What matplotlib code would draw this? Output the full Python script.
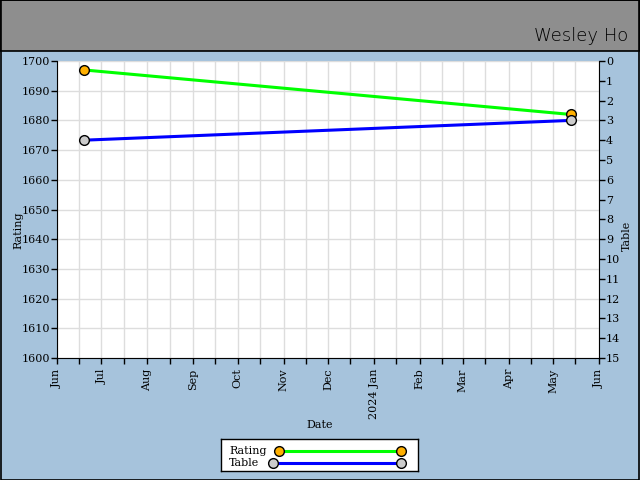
import datetime as dt
import matplotlib
matplotlib.use("Agg")
import matplotlib.pyplot as plt
import matplotlib.dates as mdates
from matplotlib.patches import Rectangle

# data
dates = [dt.date(2023, 6, 19), dt.date(2024, 5, 13)]
rating = [1697, 1682]
table = [4, 3]
player = "Wesley Ho"
series_names = ["Rating", "Table"]

x_start = dt.date(2023, 6, 1)
x_end = dt.date(2024, 6, 1)

bg_blue = "#a6c3dc"
head_gray = "#8e8e8e"
serif = "DejaVu Serif"
green, blue = "#00ff00", "#0000ff"
orange, grey = "#ffb000", "#cccccc"

fig = plt.figure(figsize=(6.4, 4.8), dpi=100, facecolor=bg_blue)

# header band + outer border
fig.patches.append(Rectangle((0, 1 - 51 / 480), 1, 51 / 480, transform=fig.transFigure,
                             facecolor=head_gray, edgecolor="black", linewidth=1.2, zorder=0))
fig.patches.append(Rectangle((0.0008, 0.001), 0.9984, 0.998, transform=fig.transFigure,
                             facecolor="none", edgecolor="black", linewidth=1.2, zorder=5))
fig.text(0.982, 1 - 41 / 480, player, ha="right", va="baseline", fontsize=13,
         family="DejaVu Sans", fontweight="light", color="black")

ax = fig.add_axes([57 / 640, 1 - 358 / 480, (599 - 57) / 640, (358 - 61) / 480])
ax.set_facecolor("white")

ax.plot(dates, rating, color=green, lw=2.2, marker="o", markersize=7,
        markerfacecolor=orange, markeredgecolor="black", markeredgewidth=1, zorder=3)

ax2 = ax.twinx()
ax2.plot(dates, table, color=blue, lw=2.2, marker="o", markersize=7,
         markerfacecolor=grey, markeredgecolor="black", markeredgewidth=1, zorder=3)

ax.set_xlim(x_start, x_end)
ax.set_ylim(1600, 1700)
ax.set_yticks(range(1600, 1701, 10))
ax2.set_ylim(15, 0)
ax2.set_yticks(range(0, 16))

ax.xaxis.set_major_locator(mdates.MonthLocator())
ax.xaxis.set_minor_locator(mdates.MonthLocator(bymonthday=16))


def month_fmt(x, pos=None):
    d = mdates.num2date(x)
    if d.month == 1:
        return d.strftime("%Y %b")
    return d.strftime("%b")


ax.xaxis.set_major_formatter(plt.FuncFormatter(month_fmt))

ax.grid(True, which="both", axis="x", color="#dddddd", lw=1)
ax.grid(True, which="major", axis="y", color="#dddddd", lw=1)
ax.set_axisbelow(True)

for a in (ax, ax2):
    a.tick_params(which="both", direction="out", length=4, width=1, colors="black",
                  labelsize=8)
    for lab in a.get_xticklabels() + a.get_yticklabels():
        lab.set_family(serif)
    for s in a.spines.values():
        s.set_visible(False)
ax.spines["left"].set_visible(True)
ax.spines["bottom"].set_visible(True)
ax2.spines["right"].set_visible(True)
ax.tick_params(axis="y", pad=1)
ax2.tick_params(axis="y", pad=1)
for lab in ax.get_xticklabels():
    lab.set_rotation(90)

ax.set_xlabel("Date", family=serif, fontsize=8)
ax.xaxis.set_label_coords((320 - 57) / 542, (358 - 425) / 297)
ax.xaxis.label.set_va("center")
ax.set_ylabel("Rating", family=serif, fontsize=8)
ax.yaxis.set_label_coords((18 - 57) / 542, (358 - 230) / 297)
ax.yaxis.label.set_va("center")
ax2.set_ylabel("Table", family=serif, fontsize=8)
ax2.yaxis.set_label_coords((627 - 57) / 542, (358 - 236) / 297)
ax2.yaxis.label.set_va("center")

# hand-made legend box, laid out in pixels
lg = fig.add_axes([221 / 640, 1 - 471 / 480, 197 / 640, 32 / 480])
lg.set_xlim(0, 197)
lg.set_ylim(32, 0)
lg.set_xticks([])
lg.set_yticks([])
lg.set_facecolor("white")
for s in lg.spines.values():
    s.set_color("black")
    s.set_linewidth(1)
rows = [(series_names[0], green, orange, 58, 12), (series_names[1], blue, grey, 52, 23.5)]
for name, lc, mc, x0, y in rows:
    lg.text(8, y, name, family=serif, fontsize=8, va="center", ha="left")
    lg.plot([x0, 180], [y, y], color=lc, lw=2.2, marker="o", markersize=7,
            markerfacecolor=mc, markeredgecolor="black", markeredgewidth=1, clip_on=False)

fig.savefig("out.png", dpi=100, facecolor=bg_blue)
